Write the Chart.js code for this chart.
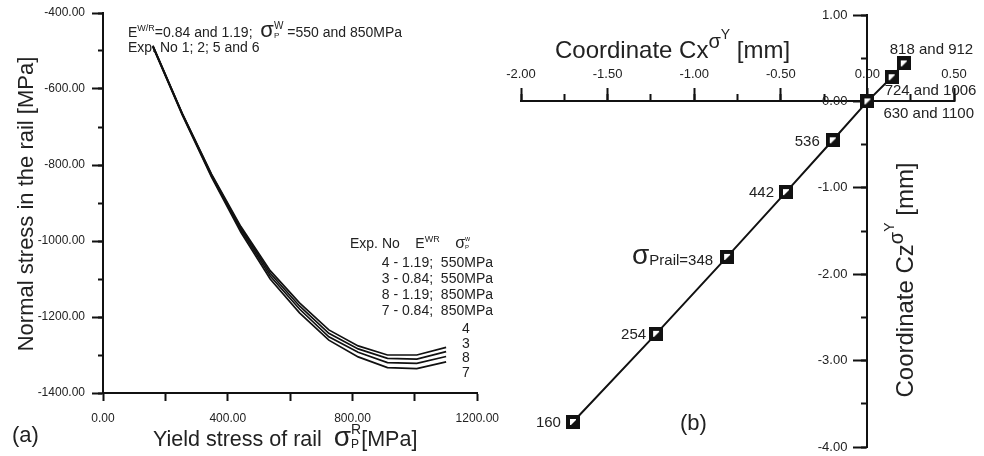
<!DOCTYPE html>
<html lang="en">
<head>
    <meta charset="UTF-8">
    <title>Rail stress and coordinates</title>
    <script src="https://cdn.jsdelivr.net/npm/chart.js"></script>
    <style>
        body { margin: 0; background: #fff; }
        .wrap { position: relative; width: 984px; height: 456px; }
        canvas { position: absolute; top: 0; }
        #chartA { left: 0; }
        #chartB { left: 500px; }
    </style>
</head>
<body>
    <div class="wrap">
        <canvas id="chartA" width="510" height="456"></canvas>
        <canvas id="chartB" width="484" height="456"></canvas>
    </div>
    <script>
        // (a) normal stress vs yield stress of rail
        const yieldStress = [160, 254, 348, 442, 536, 630, 724, 818, 912, 1006, 1100];
        const exp4 = [-486, -664, -824, -962, -1078, -1163, -1234, -1276, -1300, -1300, -1280];
        const exp3 = [-487, -665, -826, -966, -1085, -1171, -1243, -1284, -1309, -1311, -1291];
        const exp8 = [-488, -666, -829, -971, -1092, -1179, -1252, -1293, -1320, -1322, -1304];
        const exp7 = [-489, -668, -832, -977, -1100, -1189, -1261, -1305, -1333, -1336, -1318];

        // (b) coordinates of the stress point
        const coordX = [-1.70, -1.22, -0.81, -0.47, -0.20, 0.00, 0.14, 0.21];
        const coordZ = [-3.71, -2.69, -1.80, -1.05, -0.45, 0.00, 0.28, 0.44];
        const pointLabels = ['160', '254', 'σPrail=348', '442', '536', '630 and 1100', '724 and 1006', '818 and 912'];

        const FONT = '"Liberation Sans", Arial, sans-serif';
        const INK = '#111';
        const TEXT = '#222';

        // draw a run of text pieces: [text, size, dy, advance]
        function drawParts(ctx, parts, x, y, align) {
            let w = 0;
            parts.forEach(p => {
                ctx.font = p[1] + 'px ' + FONT;
                w += p[3] !== undefined ? p[3] : ctx.measureText(p[0]).width;
            });
            let cx = align === 'center' ? x - w / 2 : align === 'right' ? x - w : x;
            ctx.textAlign = 'left';
            ctx.textBaseline = 'alphabetic';
            parts.forEach(p => {
                ctx.font = p[1] + 'px ' + FONT;
                ctx.fillText(p[0], cx, y + (p[2] || 0));
                cx += p[3] !== undefined ? p[3] : ctx.measureText(p[0]).width;
            });
        }

        // y tick labels sit left of an axis that crosses x = 0
        function drawYLabels(chart, gap, size) {
            const ys = chart.scales.y;
            const x0 = chart.scales.x.getPixelForValue(0);
            const ctx = chart.ctx;
            ctx.font = size + 'px ' + FONT;
            ctx.fillStyle = TEXT;
            ctx.textAlign = 'right';
            ctx.textBaseline = 'middle';
            ys.ticks.forEach(t => ctx.fillText(t.value.toFixed(2), x0 - gap, ys.getPixelForValue(t.value)));
        }

        const tickFontA = { family: FONT, size: 12 };
        const tickFontB = { family: FONT, size: 13 };

        const textA = {
            id: 'textA',
            afterDraw(chart) {
                const ctx = chart.ctx;
                ctx.save();
                drawYLabels(chart, 18, 12);
                ctx.fillStyle = TEXT;
                drawParts(ctx, [['E', 14], ['W/R', 9, -6], ['=0.84 and 1.19;  ', 14], ['σ', 22],
                    ['P', 8, 1, 0], ['W', 10, -8], [' =550 and 850MPa', 14]], 128, 37, 'left');
                drawParts(ctx, [['Exp. No 1; 2; 5 and 6', 14]], 128, 52, 'left');

                drawParts(ctx, [['Exp. No    ', 14], ['E', 14], ['WR', 9, -6], ['    ', 14], ['σ', 16],
                    ['P', 6, 1, 0], ['w', 7, -7]], 350, 248, 'left');
                ['4 - 1.19;  550MPa', '3 - 0.84;  550MPa', '8 - 1.19;  850MPa', '7 - 0.84;  850MPa']
                    .forEach((t, i) => drawParts(ctx, [[t, 14]], 493, 267 + i * 16, 'right'));
                ['4', '3', '8', '7'].forEach((t, i) => drawParts(ctx, [[t, 14]], 462, 333 + i * 14.7, 'left'));

                drawParts(ctx, [['Yield stress of rail  ', 21.5], ['σ', 28], ['P', 12, 2, 0], ['R', 14, -12], ['[MPa]', 21.5]], 153, 446, 'left');
                drawParts(ctx, [['(a)', 22]], 12, 442, 'left');

                ctx.translate(33, 204);
                ctx.rotate(-Math.PI / 2);
                drawParts(ctx, [['Normal stress in the rail [MPa]', 22]], 0, 0, 'center');
                ctx.restore();
            }
        };

        new Chart(document.getElementById('chartA'), {
            type: 'scatter',
            data: {
                datasets: [exp4, exp3, exp8, exp7].map(s => ({
                    data: yieldStress.map((x, i) => ({ x: x, y: s[i] })),
                    showLine: true,
                    borderColor: INK,
                    borderWidth: 1.7,
                    pointRadius: 0,
                    fill: false
                }))
            },
            options: {
                responsive: false,
                animation: false,
                layout: { padding: { left: 103, right: 25, top: 13, bottom: 63 } },
                plugins: { legend: { display: false }, tooltip: { enabled: false } },
                scales: {
                    x: {
                        type: 'linear', position: { y: -1400 }, min: 0, max: 1200,
                        ticks: { stepSize: 200, font: tickFontA, color: TEXT, padding: 11, maxRotation: 0,
                            callback: v => v % 400 === 0 ? v.toFixed(2) : '' },
                        grid: { drawOnChartArea: false, tickLength: 7, tickWidth: 2, tickColor: INK },
                        border: { color: INK, width: 2 }
                    },
                    y: {
                        type: 'linear', position: { x: 0 }, min: -1400, max: -400,
                        ticks: { stepSize: 200, display: false },
                        grid: { drawOnChartArea: false, tickLength: 10, tickWidth: 2, tickColor: INK },
                        border: { color: INK, width: 2 }
                    },
                    ym: {
                        type: 'linear', axis: 'y', position: { x: 0 }, min: -1400, max: -400,
                        ticks: { stepSize: 100, display: false },
                        grid: { drawOnChartArea: false, tickLength: 5, tickWidth: 2, tickColor: INK },
                        border: { display: false }
                    }
                }
            },
            plugins: [textA]
        });

        // square marker with a small white window
        function makeMarker() {
            const c = document.createElement('canvas');
            c.width = 14; c.height = 14;
            const g = c.getContext('2d');
            g.fillStyle = INK; g.fillRect(0, 0, 14, 14);
            g.fillStyle = '#fff'; g.fillRect(4, 4, 6, 6);
            g.fillStyle = INK;
            g.beginPath(); g.moveTo(10, 5); g.lineTo(10, 10); g.lineTo(5, 10); g.closePath(); g.fill();
            return c;
        }

        const labelOffsets = [[-12, 5, 'right'], [-10, 5, 'right'], [-14, 5, 'right'], [-12, 5, 'right'],
            [-13, 6, 'right'], [16, 17, 'left'], [-7, 18, 'left'], [-14, -9, 'left']];

        const textB = {
            id: 'textB',
            afterDatasetsDraw(chart) {
                const ctx = chart.ctx;
                ctx.save();
                drawYLabels(chart, 20, 13);
                ctx.fillStyle = TEXT;
                chart.getDatasetMeta(0).data.forEach((pt, i) => {
                    const o = labelOffsets[i];
                    const t = pointLabels[i];
                    const parts = t[0] === 'σ' ? [['σ', 28, 2], [t.slice(1), 15, 3]] : [[t, 15]];
                    drawParts(ctx, parts, pt.x + o[0], pt.y + o[1], o[2]);
                });
                drawParts(ctx, [['Coordinate Cx', 24], ['σ', 20, -10], ['Y', 14, -19], [' [mm]', 24]], 55, 58, 'left');
                drawParts(ctx, [['(b)', 22]], 180, 430, 'left');
                ctx.translate(413, 280);
                ctx.rotate(-Math.PI / 2);
                drawParts(ctx, [['Coordinate Cz', 24], ['σ', 20, -10], ['Y', 14, -19], [' [mm]', 24]], 0, 0, 'center');
                ctx.restore();
            }
        };

        new Chart(document.getElementById('chartB'), {
            type: 'scatter',
            data: {
                datasets: [{
                    data: coordX.map((x, i) => ({ x: x, y: coordZ[i] })),
                    showLine: true,
                    borderColor: INK,
                    borderWidth: 2,
                    pointStyle: makeMarker(),
                    clip: false
                }]
            },
            options: {
                responsive: false,
                animation: false,
                layout: { padding: { left: 21, right: 30, top: 15, bottom: 9 } },
                plugins: { legend: { display: false }, tooltip: { enabled: false } },
                scales: {
                    x: {
                        type: 'linear', position: { y: 0 }, min: -2, max: 0.5,
                        ticks: { stepSize: 0.5, font: tickFontB, color: TEXT, padding: -21, maxRotation: 0,
                            callback: v => v.toFixed(2) },
                        grid: { drawOnChartArea: false, tickLength: -14, tickWidth: 2, tickColor: INK },
                        border: { color: INK, width: 2 }
                    },
                    xm: {
                        type: 'linear', axis: 'x', position: { y: 0 }, min: -2, max: 0.5,
                        ticks: { stepSize: 0.25, display: false },
                        grid: { drawOnChartArea: false, tickLength: -7, tickWidth: 2, tickColor: INK },
                        border: { display: false }
                    },
                    y: {
                        type: 'linear', position: { x: 0 }, min: -4, max: 1,
                        ticks: { stepSize: 1, display: false },
                        grid: { drawOnChartArea: false, tickLength: 13, tickWidth: 2, tickColor: INK },
                        border: { color: INK, width: 2 }
                    },
                    ym: {
                        type: 'linear', axis: 'y', position: { x: 0 }, min: -4, max: 1,
                        ticks: { stepSize: 0.5, display: false },
                        grid: { drawOnChartArea: false, tickLength: 6, tickWidth: 2, tickColor: INK },
                        border: { display: false }
                    }
                }
            },
            plugins: [textB]
        });
    </script>
</body>
</html>
